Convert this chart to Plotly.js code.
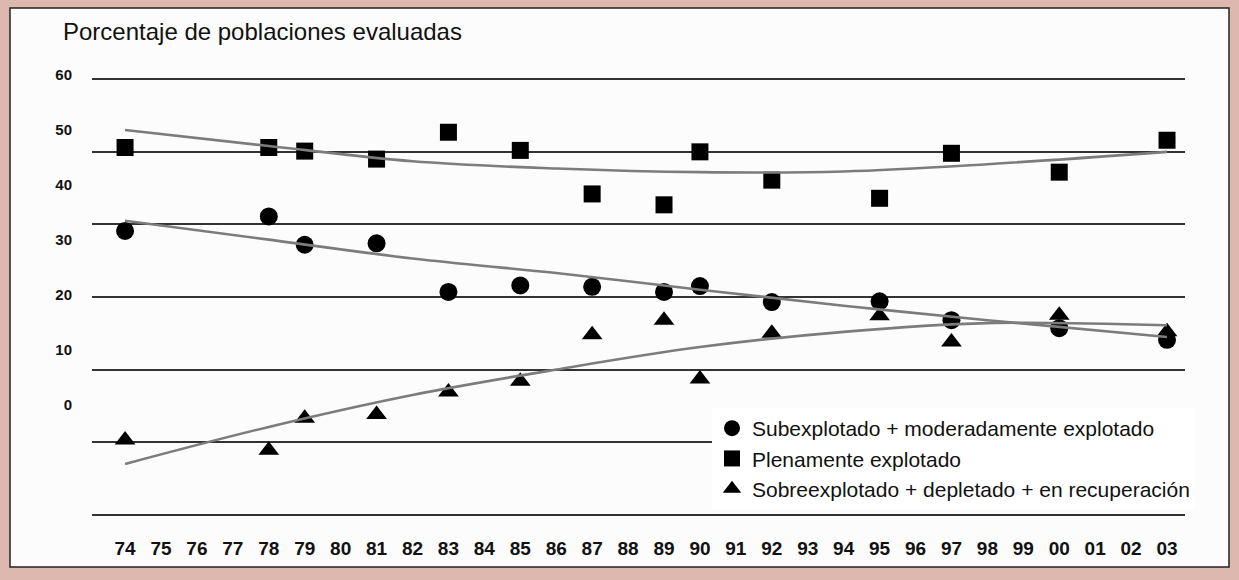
<!DOCTYPE html>
<html>
<head>
<meta charset="utf-8">
<script src="https://cdn.plot.ly/plotly-3.0.1.min.js"></script>
<style>
  html, body { margin: 0; padding: 0; background: #dcb8ae; }
  #chart { width: 1239px; height: 580px; }
</style>
</head>
<body>
<div id="chart"></div>
<script>
// ---- Data (% of assessed stocks) ----
const tickYears = [1974,1975,1976,1977,1978,1979,1980,1981,1982,1983,1984,1985,1986,1987,1988,1989,1990,1991,1992,1993,1994,1995,1996,1997,1998,1999,2000,2001,2002,2003];
const tickLabels = ['74','75','76','77','78','79','80','81','82','83','84','85','86','87','88','89','90','91','92','93','94','95','96','97','98','99','00','01','02','03'];

const obsYears = [1974,1978,1979,1981,1983,1985,1987,1989,1990,1992,1995,1997,2000,2003];
const underExploited = [39.1,41.1,37.2,37.4,30.7,31.6,31.4,30.7,31.5,29.3,29.4,26.8,25.7,24.1];
const fullyExploited = [50.6,50.6,50.1,49.0,52.7,50.2,44.2,42.7,50.0,46.1,43.6,49.8,47.2,51.6];
const overExploited  = [10.3,8.9,13.3,13.8,16.9,18.4,24.8,26.8,18.7,25.0,27.4,23.8,27.5,25.2];

const trendYears = [1974,1978,1982,1986,1990,1994,1998,2003];
const underTrend = [40.5,37.9,35.3,33.3,31.0,28.8,26.8,24.5];
const fullyTrend = [53.0,50.8,48.7,47.7,47.2,47.3,48.3,50.0];
const overTrend  = [7.0,12.1,16.5,20.0,23.1,25.2,26.4,26.1];

// printed y-axis labels (they sit on their own scale in the original)
const yLabelVals = [0,10,20,30,40,50,60];
const yLabelText = ['0','10','20','30','40','50','60'];

const seriesNames = [
  'Subexplotado + moderadamente explotado',
  'Plenamente explotado',
  'Sobreexplotado + depletado + en recuperación'
];

const FONT = 'Liberation Sans, Arial, Helvetica, sans-serif';

const markerTrace = (y, name, symbol, size) => ({
  type: 'scatter', mode: 'markers', x: obsYears, y: y, name: name,
  marker: { symbol: symbol, size: size, color: '#000000', line: { width: 0 } },
  hoverinfo: 'x+y'
});
const trendTrace = (y) => ({
  type: 'scatter', mode: 'lines', x: trendYears, y: y, showlegend: false,
  line: { color: '#7c7c7c', width: 2.6, shape: 'spline', smoothing: 1 },
  hoverinfo: 'skip'
});

const data = [
  markerTrace(underExploited, seriesNames[0], 'circle', 18),
  markerTrace(fullyExploited, seriesNames[1], 'square', 17),
  markerTrace(overExploited, seriesNames[2], 'triangle-up', 18),
  trendTrace(fullyTrend),
  trendTrace(underTrend),
  trendTrace(overTrend),
  { type: 'scatter', mode: 'markers', x: [], y: [], yaxis: 'y2', showlegend: false, hoverinfo: 'skip' }
];

const layout = {
  width: 1239, height: 580,
  margin: { l: 92, r: 54, t: 72, b: 58 },
  paper_bgcolor: '#dcb8ae',
  plot_bgcolor: 'rgba(0,0,0,0)',
  font: { family: FONT, color: '#111111' },
  title: {
    text: 'Porcentaje de poblaciones evaluadas',
    font: { family: FONT, size: 24, color: '#111111' },
    x: 63 / 1239, xanchor: 'left', xref: 'container',
    y: 1 - 32 / 580, yanchor: 'middle', yref: 'container'
  },
  xaxis: {
    range: [1973.08, 2003.5],
    tickmode: 'array', tickvals: tickYears, ticktext: tickLabels,
    showgrid: false, zeroline: false, showline: false,
    ticks: 'outside', ticklen: 9, tickcolor: 'rgba(0,0,0,0)',
    tickfont: { family: FONT, size: 19, color: '#111111', weight: 'bold' }
  },
  yaxis: {
    range: [-1, 61], dtick: 10, tick0: 0,
    showgrid: true, gridcolor: '#333333', gridwidth: 2,
    zeroline: false, showline: false, showticklabels: false, ticks: ''
  },
  yaxis2: {
    overlaying: 'y', side: 'left', anchor: 'x',
    range: [-21.27, 60.55], autorange: false,
    tickmode: 'array', tickvals: yLabelVals, ticktext: yLabelText,
    showgrid: false, zeroline: false, showline: false,
    ticks: 'outside', ticklen: 16, tickcolor: 'rgba(0,0,0,0)',
    tickfont: { family: FONT, size: 15, color: '#111111', weight: 'bold' }
  },
  legend: {
    x: (712 - 92) / 1093, xanchor: 'left',
    y: (522 - 408) / 450, yanchor: 'top',
    bgcolor: '#ffffff', borderwidth: 0,
    font: { family: FONT, size: 21, color: '#111111' },
    tracegroupgap: 0
  },
  shapes: [{
    type: 'rect', xref: 'paper', yref: 'paper', layer: 'below',
    x0: (10 - 92) / 1093, x1: (1229 - 92) / 1093,
    y0: (522 - 567) / 450, y1: (522 - 8) / 450,
    line: { color: '#222222', width: 1.5 },
    fillcolor: '#fcfcfc'
  }],
  showlegend: true
};

Plotly.newPlot('chart', data, layout, { displayModeBar: false, staticPlot: true });
</script>
</body>
</html>
